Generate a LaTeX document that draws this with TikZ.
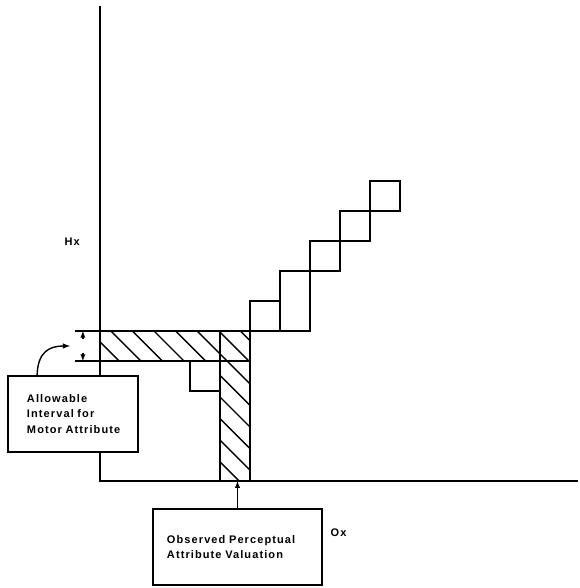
\documentclass[tikz,border=0pt]{standalone}
\usepackage{fontspec}
\setmainfont{Liberation Sans}[LetterSpace=10,WordSpace=3]
\tikzset{>=latex}
\tikzset{
  labelbox/.style={draw, line width=1.8pt, fill=white, align=left,
    font=\fontsize{11}{15.5}\selectfont\bfseries},
  thinline/.style={line width=1.1pt},
  stair/.style={line width=2.8pt},
}

\begin{document}
\begin{tikzpicture}[x=30pt,y=30pt]
\useasboundingbox (-3.333,-3.567) rectangle (16,16.033);

% hatching of the two intervals
\begin{scope}
\clip (0,4) rectangle (5,5) (4,0) rectangle (5,4);
\foreach \k in {0,...,16}
	\draw [line width=1.4pt] (\k*0.72-5.4,5)--(\k*0.72-0.4,0);
\end{scope}

\draw [thinline](0,15.83)--(0,0)--(15.93,0);

\draw [thinline](-0.83,5)--(5,5);
\draw [thinline](-0.83,4)--(5,4);
\draw [thinline](4,0)--(4,4);
\draw [thinline](5,0)--(5,4);

\draw [line width=1.3pt][->](-0.57,4.72)--(-0.57,5);
\draw [line width=1.3pt][->](-0.57,4.28)--(-0.57,4);

% steps
\draw [stair](3,3) rectangle (4,4);
\draw [stair](4,4) rectangle (5,5);
\draw [stair](5,5) rectangle (6,6);
\draw [stair](6,5) rectangle (7,7);
\draw [stair](7,7) rectangle (8,8);
\draw [stair](8,8) rectangle (9,9);
\draw [stair](9,9) rectangle (10,10);

	\node (hx) at (-0.93,7.97) {\fontsize{11}{13}\selectfont\bfseries Hx};
	\node [anchor=west] (ox) at (7.57,-1.73) {\fontsize{11}{13}\selectfont\bfseries Ox};

	\node [labelbox, minimum width=130pt, minimum height=76pt, text width=92pt] (allow) at (-0.9,2.233)
		{\mbox{Allowable}\\\mbox{Interval for}\\\mbox{Motor Attribute}};
	\node [labelbox, minimum width=169pt, minimum height=76pt, text width=141pt] (obs) at (4.583,-2.2)
		{\mbox{Observed Perceptual}\\\mbox{Attribute Valuation}};

	\coordinate (tipa) at (-1.0,4.5);
	\coordinate (tipo) at (obs.north |- 0,0);

	\draw [line width=1.4pt][->]([xshift=30pt]allow.north west) .. controls (-2.07,4.3) and (-1.7,4.5) .. (tipa);
	\draw [line width=1.4pt][->](obs.north)--(tipo);
\end{tikzpicture}
\end{document}
